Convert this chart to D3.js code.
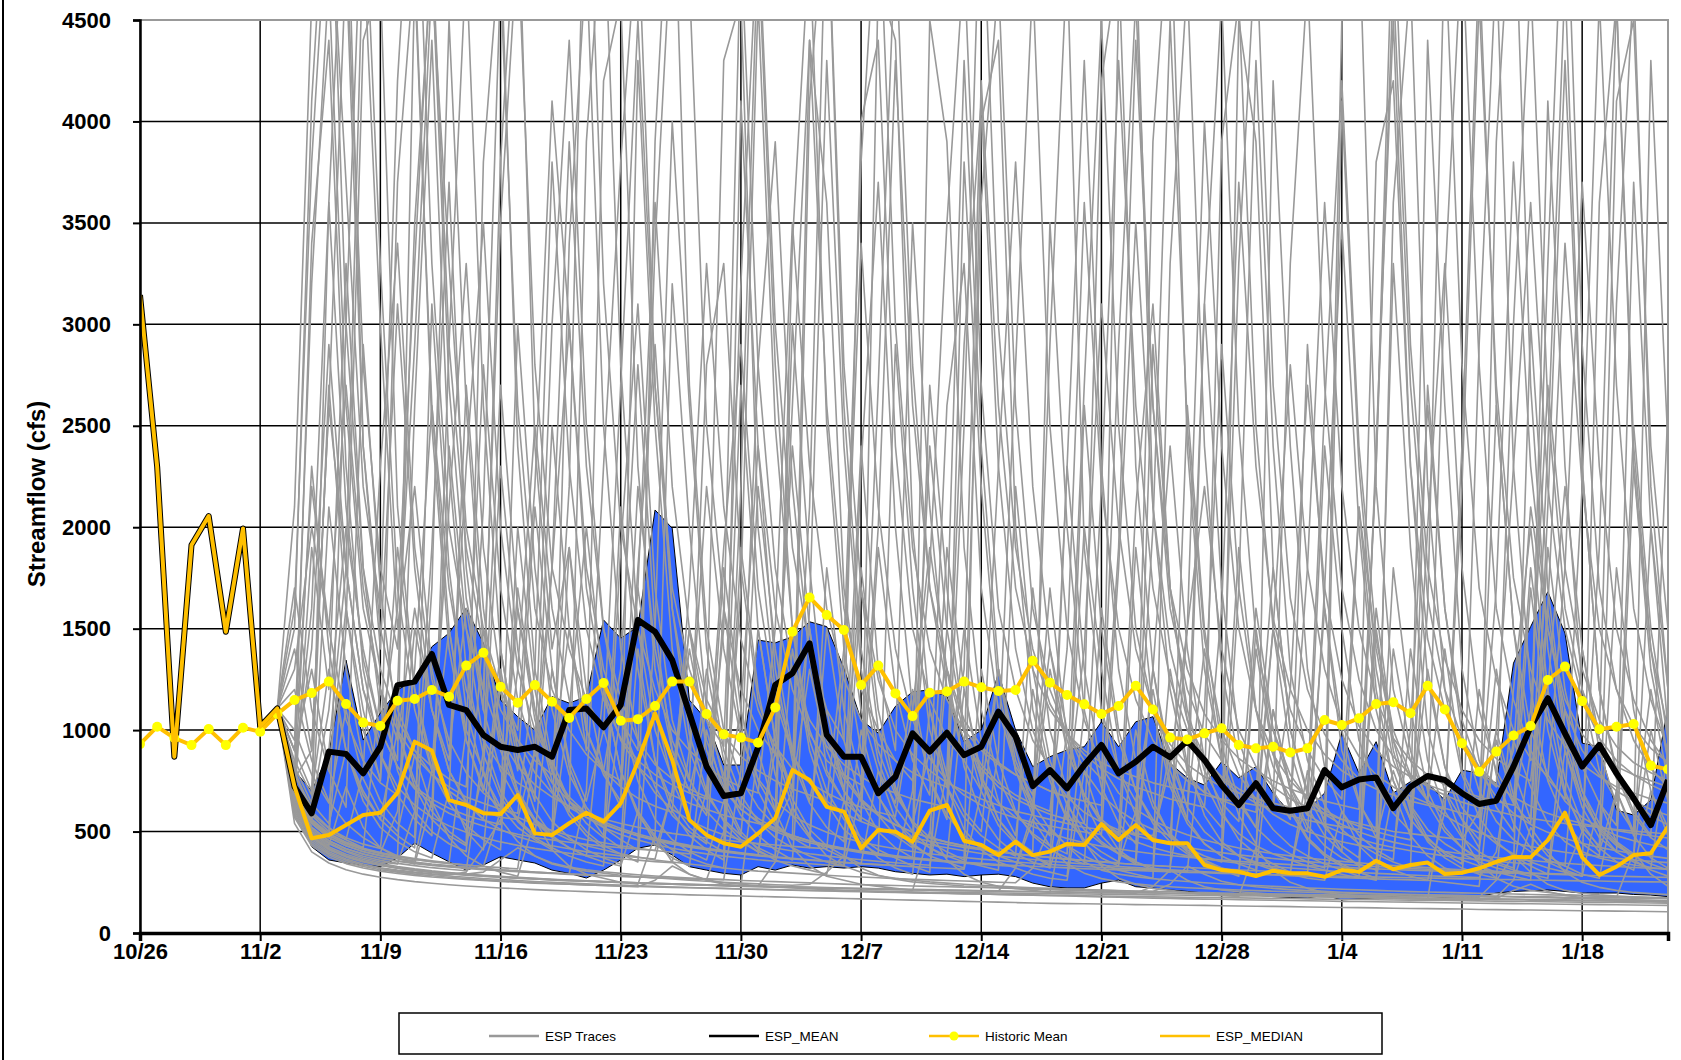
<!DOCTYPE html>
<html>
<head>
<meta charset="utf-8">
<script src="https://cdn.jsdelivr.net/npm/d3@7"></script>
<style>
  body { margin: 0; background: #fff; }
  svg { display: block; font-family: "Liberation Sans", Arial, sans-serif; }
</style>
</head>
<body>
<svg id="chart" width="1681" height="1060"></svg>
<script>
// x tick labels, one per week starting 10/26 (day 0)
const xTickLabels = ["10/26", "11/2", "11/9", "11/16", "11/23", "11/30", "12/7", "12/14", "12/21", "12/28", "1/4", "1/11", "1/18"];
const yTicks = [0, 500, 1000, 1500, 2000, 2500, 3000, 3500, 4000, 4500];

// ESP_MEAN, day 0..89 (first 9 days = observed)
const espMean = [3144, 2298, 869, 1912, 2055, 1485, 1994, 1017, 1107, 721,
  590, 894, 882, 787, 918, 1222, 1239, 1375, 1124, 1099,
  976, 918, 902, 918, 869, 1099, 1107, 1014, 1124, 1543,
  1485, 1345, 1083, 820, 675, 689, 915, 1222, 1280, 1428,
  976, 869, 869, 689, 770, 984, 894, 987, 877, 918,
  1091, 968, 724, 803, 713, 828, 927, 787, 844, 918,
  866, 948, 853, 729, 631, 738, 615, 603, 615, 803,
  718, 757, 767, 615, 721, 774, 754, 689, 636, 652,
  820, 1017, 1157, 984, 820, 927, 787, 664, 532, 754];

// ESP_MEDIAN, day 0..89
const espMedian = [3144, 2298, 869, 1912, 2055, 1485, 1994, 1017, 1107, 721,
  467, 483, 532, 582, 593, 692, 943, 899, 655, 631,
  590, 586, 680, 491, 483, 541, 593, 549, 639, 844,
  1083, 853, 557, 483, 442, 425, 491, 565, 803, 754,
  622, 598, 417, 508, 499, 450, 603, 631, 455, 434,
  384, 450, 384, 401, 439, 434, 537, 458, 532, 458,
  442, 442, 335, 310, 302, 281, 307, 294, 294, 277,
  310, 302, 356, 314, 335, 347, 291, 297, 319, 351,
  376, 373, 458, 593, 373, 286, 327, 384, 393, 524];

// Historic Mean, day 0..89
const historicMean = [931, 1017, 961, 926, 1005, 926, 1012, 992, 1080, 1148,
  1183, 1239, 1129, 1037, 1020, 1145, 1153, 1198, 1165, 1318,
  1381, 1214, 1135, 1222, 1140, 1060, 1153, 1232, 1046, 1054,
  1119, 1239, 1239, 1079, 979, 963, 938, 1112, 1485, 1654,
  1567, 1493, 1222, 1318, 1181, 1069, 1184, 1190, 1239, 1211,
  1193, 1198, 1342, 1234, 1173, 1127, 1079, 1119, 1219, 1102,
  963, 954, 984, 1009, 927, 910, 918, 890, 910, 1050,
  1025, 1058, 1129, 1137, 1083, 1219, 1102, 935, 795, 894,
  973, 1020, 1247, 1313, 1143, 1004, 1017, 1030, 825, 807];

// shaded ensemble band, day 9..89
const bandStart = 9;
const bandUpper = [800, 700, 887, 1345, 951, 1084, 1198, 1247, 1411, 1478,
  1601, 1429, 1148, 1066, 1000, 1165, 1133, 1165, 1543, 1453,
  1510, 2085, 1995, 1148, 1050, 828, 828, 1444, 1430, 1460,
  1534, 1510, 1306, 1050, 985, 1117, 1189, 1198, 1166, 943,
  1000, 1281, 1000, 820, 869, 902, 918, 1041, 918, 1041,
  1066, 837, 764, 729, 844, 764, 820, 689, 591, 606,
  690, 984, 788, 943, 690, 746, 738, 655, 803, 788,
  738, 1330, 1510, 1682, 1478, 936, 918, 606, 581, 655, 1115];
const bandLower = [640, 425, 360, 345, 335, 327, 370, 443, 394, 351,
  310, 335, 376, 360, 345, 310, 294, 271, 310, 360,
  418, 434, 384, 327, 310, 294, 286, 327, 310, 335,
  320, 327, 320, 327, 320, 302, 294, 286, 290, 278,
  286, 290, 278, 246, 228, 222, 222, 246, 261, 228,
  222, 212, 205, 197, 190, 197, 187, 179, 175, 172,
  187, 163, 168, 172, 180, 187, 180, 175, 179, 179,
  197, 205, 208, 212, 205, 197, 197, 197, 190, 187, 179];

// ESP traces, day 8..89
const traceStart = 8;
const espTraces = [
  [1107, 760, 900, 2600, 4800, 2400, 1500, 1100, 900, 780, 700, 640, 600, 570, 560, 900, 1800, 3000, 1700, 1200, 950, 820, 740, 680, 640, 610, 580, 560, 540, 520, 700, 2100, 5200, 2800, 1700, 1250, 1000, 880, 800, 740, 700, 660, 630, 600, 580, 560, 540, 520, 510, 500, 490, 480, 820, 1500, 2200, 1400, 1000, 820, 720, 660, 620, 590, 560, 540, 520, 500, 490, 480, 470, 460, 600, 1700, 3800, 2300, 1500, 1100, 900, 780, 700, 650, 610, 580],
  [1107, 620, 470, 410, 380, 355, 335, 320, 310, 300, 295, 290, 300, 360, 420, 380, 340, 320, 305, 295, 285, 278, 272, 266, 260, 255, 250, 246, 242, 238, 235, 240, 300, 380, 320, 285, 265, 252, 244, 238, 232, 228, 224, 220, 217, 214, 211, 208, 205, 203, 200, 198, 196, 194, 192, 190, 188, 186, 184, 182, 180, 178, 176, 174, 172, 170, 168, 167, 165, 164, 162, 170, 210, 240, 205, 185, 175, 168, 162, 158, 155, 152],
  [1107, 650, 500, 440, 400, 370, 350, 340, 600, 1900, 3700, 1800, 1100, 800, 650, 560, 500, 460, 430, 410, 390, 375, 360, 350, 340, 330, 320, 312, 305, 300, 295, 290, 285, 280, 276, 272, 268, 265, 262, 259, 256, 253, 250, 248, 320, 520, 430, 350, 310, 290, 278, 268, 260, 254, 248, 243, 238, 234, 230, 226, 222, 219, 216, 213, 210, 207, 204, 202, 200, 198, 196, 194, 192, 190, 188, 186, 184, 182, 180, 178, 176, 174],
  [1107, 820, 1400, 2900, 1800, 1200, 950, 1600, 3300, 4900, 2900, 1900, 1400, 1100, 950, 850, 780, 2200, 5600, 3200, 2000, 1500, 1200, 1000, 900, 820, 760, 720, 690, 1500, 3500, 2300, 1600, 1250, 1050, 930, 850, 790, 750, 720, 1300, 4200, 2600, 1700, 1300, 1100, 980, 900, 840, 800, 770, 740, 720, 700, 680, 660, 645, 630, 620, 1200, 2700, 1700, 1250, 1020, 900, 820, 770, 730, 700, 680, 660, 640, 900, 2100, 1500, 1150, 980, 880, 820, 780, 750, 720],
  [1107, 580, 440, 385, 350, 328, 312, 300, 290, 282, 275, 268, 262, 257, 252, 248, 244, 240, 237, 234, 231, 228, 260, 330, 290, 262, 248, 240, 233, 227, 222, 218, 214, 211, 208, 205, 202, 200, 198, 196, 194, 192, 190, 188, 186, 184, 182, 180, 178, 176, 174, 172, 170, 168, 167, 166, 164, 163, 162, 160, 159, 158, 156, 155, 154, 153, 152, 150, 149, 148, 147, 146, 145, 144, 143, 142, 141, 140, 139, 138, 137, 136],
  [1107, 700, 540, 470, 430, 400, 380, 365, 350, 340, 332, 325, 318, 312, 306, 300, 296, 292, 288, 284, 280, 276, 273, 270, 267, 264, 500, 1700, 4600, 2500, 1500, 1000, 780, 650, 570, 520, 480, 455, 435, 420, 405, 392, 380, 370, 362, 354, 347, 340, 334, 328, 322, 317, 312, 307, 302, 298, 294, 290, 286, 282, 279, 276, 273, 270, 267, 264, 262, 259, 600, 2400, 4800, 2600, 1500, 1000, 780, 650, 570, 520, 480, 455, 435, 420],
  [1107, 900, 2200, 1500, 1050, 850, 740, 680, 1300, 2600, 1700, 1200, 950, 820, 740, 690, 1800, 3900, 2300, 1500, 1150, 950, 830, 760, 710, 670, 640, 1100, 2400, 1600, 1200, 980, 850, 780, 730, 2000, 4300, 2600, 1700, 1300, 1050, 920, 840, 780, 740, 700, 670, 1400, 3100, 2000, 1400, 1100, 930, 830, 770, 720, 690, 660, 640, 620, 1800, 3600, 2200, 1500, 1150, 960, 850, 780, 730, 700, 670, 650, 630, 1100, 2700, 1800, 1300, 1050, 920, 840, 790, 750],
  [1107, 600, 460, 400, 365, 340, 322, 310, 300, 292, 286, 300, 420, 560, 450, 380, 345, 325, 312, 302, 294, 287, 281, 276, 271, 267, 263, 259, 256, 253, 250, 247, 244, 241, 238, 236, 234, 232, 230, 228, 226, 224, 222, 220, 218, 216, 214, 212, 210, 208, 206, 204, 240, 330, 290, 255, 238, 228, 220, 214, 209, 205, 201, 198, 195, 192, 190, 188, 186, 184, 182, 180, 178, 176, 174, 172, 170, 168, 166, 164, 162, 160],
  [1107, 680, 520, 455, 415, 390, 370, 355, 345, 335, 328, 322, 316, 310, 305, 300, 296, 292, 700, 2300, 3800, 5000, 2700, 1600, 1100, 850, 700, 610, 550, 510, 480, 455, 435, 418, 404, 392, 381, 371, 362, 354, 347, 340, 900, 2800, 4700, 2500, 1500, 1050, 820, 690, 610, 555, 515, 484, 458, 437, 419, 404, 391, 380, 370, 361, 353, 346, 339, 333, 327, 322, 317, 312, 308, 304, 300, 296, 293, 290, 500, 1900, 4600, 2400, 1400, 1000],
  [1107, 720, 560, 490, 445, 415, 395, 600, 1500, 1100, 800, 640, 560, 510, 475, 450, 430, 415, 400, 390, 380, 372, 365, 700, 1400, 950, 720, 610, 545, 500, 470, 445, 425, 410, 396, 384, 374, 365, 357, 350, 344, 338, 333, 328, 600, 1300, 900, 680, 560, 490, 450, 420, 398, 380, 366, 354, 344, 335, 327, 320, 314, 308, 303, 298, 294, 290, 286, 282, 279, 276, 273, 400, 950, 720, 540, 450, 400, 370, 350, 335, 323, 313],
  [1107, 1500, 4100, 5500, 3000, 1800, 1300, 1050, 900, 820, 760, 720, 2100, 4700, 2600, 1600, 1200, 1000, 880, 800, 750, 1700, 3600, 2200, 1500, 1150, 980, 870, 800, 750, 710, 680, 650, 1400, 3800, 5200, 3000, 1900, 1400, 1150, 1000, 900, 830, 780, 740, 700, 670, 650, 630, 1900, 4400, 2600, 1700, 1300, 1080, 950, 860, 800, 750, 710, 680, 650, 630, 610, 2300, 5100, 2900, 1800, 1350, 1100, 950, 860, 800, 750, 1600, 3400, 2200, 1500, 1200, 1020, 910, 840],
  [1107, 590, 450, 392, 358, 334, 318, 305, 296, 288, 281, 275, 269, 264, 259, 254, 250, 246, 242, 239, 236, 233, 230, 227, 224, 222, 220, 217, 215, 213, 211, 209, 207, 205, 203, 201, 200, 198, 196, 195, 193, 192, 190, 189, 188, 186, 185, 183, 182, 181, 180, 178, 177, 176, 175, 174, 173, 172, 171, 170, 168, 167, 166, 165, 164, 163, 162, 161, 160, 159, 158, 157, 156, 155, 154, 153, 152, 151, 150, 149, 148, 147],
  [1107, 740, 580, 500, 460, 800, 2300, 3400, 1900, 1250, 950, 790, 690, 620, 570, 535, 505, 480, 460, 445, 430, 418, 407, 398, 390, 700, 1900, 2900, 1700, 1150, 880, 740, 650, 590, 550, 518, 492, 470, 452, 436, 422, 410, 399, 389, 380, 372, 365, 358, 352, 346, 600, 2000, 4500, 2500, 1450, 1000, 780, 660, 585, 535, 500, 472, 450, 432, 417, 404, 1000, 2600, 1600, 1050, 800, 670, 590, 535, 496, 466, 442, 422, 405, 391, 379, 368],
  [1107, 640, 490, 425, 388, 362, 343, 328, 316, 306, 298, 291, 285, 279, 274, 269, 265, 261, 257, 254, 251, 248, 245, 242, 240, 237, 235, 233, 231, 350, 620, 480, 380, 330, 300, 282, 270, 260, 252, 246, 240, 235, 231, 227, 223, 220, 217, 214, 212, 209, 207, 205, 203, 201, 199, 197, 195, 194, 192, 191, 189, 188, 186, 185, 184, 182, 181, 180, 178, 177, 176, 260, 380, 300, 240, 210, 196, 188, 182, 177, 173, 170],
  [1107, 700, 550, 480, 440, 412, 392, 376, 363, 352, 343, 335, 328, 600, 1600, 1100, 800, 650, 570, 520, 485, 458, 436, 418, 403, 390, 379, 370, 361, 354, 347, 341, 335, 330, 700, 2700, 4900, 2800, 1700, 1200, 950, 810, 720, 660, 620, 585, 560, 540, 2200, 4300, 2600, 1700, 1250, 1000, 860, 770, 710, 665, 630, 3300, 4700, 2700, 1700, 1250, 1000, 870, 780, 720, 680, 645, 620, 600, 580, 565, 552, 540, 530, 520, 510, 502, 495, 488],
  [1107, 660, 510, 445, 405, 378, 358, 343, 332, 322, 314, 307, 900, 2700, 1600, 1050, 800, 670, 590, 540, 505, 478, 456, 438, 423, 410, 399, 389, 380, 372, 365, 359, 353, 347, 342, 337, 333, 700, 2400, 1500, 1000, 760, 640, 570, 525, 492, 466, 445, 428, 414, 402, 391, 382, 374, 366, 359, 353, 347, 342, 337, 332, 328, 324, 320, 316, 313, 310, 307, 304, 301, 298, 296, 293, 900, 3300, 5400, 2900, 1700, 1200, 950, 810, 720],
  [1107, 950, 3200, 4700, 2600, 1600, 1200, 1000, 870, 780, 720, 670, 640, 610, 590, 1300, 3800, 2300, 1500, 1150, 960, 850, 780, 730, 690, 660, 1500, 4900, 2800, 1800, 1300, 1050, 920, 830, 770, 720, 690, 660, 640, 620, 2500, 5300, 3000, 1900, 1400, 1130, 980, 880, 810, 760, 720, 690, 660, 640, 620, 1600, 3700, 2300, 1550, 1200, 1000, 880, 800, 750, 710, 680, 650, 630, 610, 2200, 4600, 2700, 1750, 1300, 1050, 920, 830, 770, 720, 690, 660, 640],
  [1107, 610, 470, 410, 374, 350, 333, 319, 308, 299, 292, 285, 280, 275, 270, 266, 262, 258, 255, 252, 249, 246, 243, 240, 237, 235, 232, 230, 228, 226, 224, 222, 220, 219, 217, 215, 214, 212, 211, 209, 208, 207, 205, 204, 203, 202, 200, 199, 198, 197, 196, 230, 310, 260, 228, 212, 203, 197, 192, 188, 185, 182, 180, 178, 176, 174, 172, 171, 169, 168, 166, 165, 164, 162, 161, 160, 159, 158, 157, 156, 155, 154],
  [1107, 690, 540, 470, 430, 402, 383, 368, 355, 800, 2100, 3300, 1900, 1250, 950, 790, 690, 620, 570, 535, 505, 480, 460, 442, 427, 414, 403, 393, 384, 1000, 2400, 1500, 1000, 780, 660, 585, 535, 498, 470, 448, 430, 415, 402, 391, 381, 372, 364, 357, 350, 344, 338, 333, 328, 323, 319, 315, 311, 307, 304, 301, 700, 2600, 4200, 2400, 1450, 1000, 780, 655, 580, 530, 494, 466, 444, 426, 411, 398, 387, 377, 368, 360, 353, 347],
  [1107, 780, 620, 1100, 2000, 1400, 1000, 820, 720, 660, 615, 580, 555, 535, 1300, 2500, 1600, 1150, 920, 800, 720, 665, 625, 595, 1700, 3300, 2100, 1450, 1100, 920, 810, 740, 690, 650, 620, 595, 575, 1100, 1900, 1300, 990, 830, 740, 680, 635, 600, 1400, 3600, 2200, 1500, 1150, 950, 830, 750, 695, 655, 620, 595, 1500, 2800, 1800, 1300, 1020, 870, 780, 720, 675, 640, 615, 590, 570, 1000, 2300, 3600, 2200, 1500, 1150, 960, 850, 780, 730, 690],
  [1107, 630, 480, 418, 380, 354, 336, 322, 311, 302, 294, 288, 282, 277, 272, 268, 264, 260, 257, 254, 251, 248, 245, 243, 240, 238, 236, 234, 232, 230, 228, 226, 224, 222, 220, 218, 217, 215, 214, 212, 211, 209, 208, 206, 205, 204, 203, 201, 200, 199, 198, 197, 196, 195, 194, 193, 192, 191, 190, 189, 188, 187, 186, 185, 184, 183, 182, 181, 180, 179, 178, 177, 260, 520, 400, 300, 250, 225, 210, 200, 194, 189],
  [1107, 700, 550, 480, 440, 412, 392, 376, 363, 352, 343, 335, 328, 322, 316, 900, 3000, 4400, 2500, 1500, 1050, 820, 690, 610, 555, 515, 484, 458, 437, 419, 404, 391, 380, 370, 361, 353, 346, 340, 334, 800, 2900, 4100, 2300, 1400, 1000, 790, 670, 595, 545, 508, 480, 457, 438, 422, 408, 396, 385, 376, 367, 359, 352, 345, 339, 333, 328, 323, 318, 314, 310, 306, 302, 299, 296, 293, 290, 287, 285, 282, 280, 278, 276, 274],
  [1107, 670, 520, 455, 415, 388, 368, 354, 342, 333, 325, 318, 312, 307, 302, 297, 293, 289, 285, 282, 279, 276, 273, 270, 268, 265, 263, 800, 2800, 3900, 2200, 1350, 950, 760, 650, 580, 532, 497, 470, 448, 430, 415, 402, 391, 381, 372, 364, 357, 350, 344, 338, 333, 328, 800, 3100, 4600, 2500, 1450, 1000, 780, 660, 585, 535, 498, 470, 448, 430, 415, 402, 391, 381, 372, 364, 357, 350, 344, 338, 333, 328, 323, 319, 315],
  [1107, 720, 560, 490, 448, 418, 397, 380, 367, 356, 346, 1000, 2800, 1700, 1150, 880, 740, 650, 590, 548, 515, 488, 466, 448, 432, 418, 406, 395, 385, 376, 368, 361, 354, 348, 342, 337, 332, 327, 323, 319, 315, 700, 2300, 3800, 2200, 1400, 1000, 800, 680, 605, 550, 510, 480, 1500, 4000, 2400, 1500, 1100, 880, 750, 665, 605, 560, 526, 499, 477, 459, 1600, 4900, 2800, 1700, 1250, 1000, 860, 770, 1800, 3700, 2300, 1500, 1150, 950, 830],
  [1107, 620, 475, 414, 378, 352, 334, 320, 309, 300, 292, 286, 280, 275, 270, 266, 262, 258, 255, 252, 249, 246, 243, 240, 238, 236, 234, 232, 230, 228, 226, 224, 222, 220, 218, 216, 215, 213, 212, 210, 209, 207, 206, 320, 560, 430, 340, 295, 268, 252, 242, 234, 228, 223, 219, 215, 212, 209, 206, 204, 201, 199, 197, 195, 193, 191, 189, 188, 186, 185, 183, 182, 180, 179, 178, 176, 175, 174, 173, 172, 171, 170],
  [1107, 710, 560, 900, 1800, 1200, 880, 720, 630, 570, 528, 496, 470, 449, 432, 417, 404, 393, 383, 374, 366, 359, 352, 346, 900, 2200, 1400, 960, 760, 650, 580, 532, 497, 470, 448, 430, 415, 402, 391, 381, 372, 364, 357, 350, 344, 338, 333, 328, 323, 319, 315, 311, 307, 304, 1100, 2900, 1700, 1100, 820, 670, 585, 530, 492, 463, 440, 421, 405, 392, 380, 370, 361, 353, 346, 340, 1200, 2200, 1400, 960, 760, 650, 580, 532],
  [1107, 750, 590, 515, 470, 438, 416, 1200, 3500, 4800, 2700, 1650, 1200, 960, 820, 730, 670, 625, 590, 562, 540, 521, 505, 491, 479, 468, 458, 449, 441, 434, 427, 421, 415, 1300, 3400, 2100, 1400, 1050, 860, 750, 680, 630, 595, 567, 545, 527, 511, 498, 486, 1800, 3500, 2100, 1400, 1050, 870, 760, 690, 640, 605, 578, 556, 538, 523, 510, 2300, 4700, 2700, 1650, 1200, 960, 820, 730, 670, 625, 590, 562, 540, 521, 505, 491, 479, 468],
  [1107, 570, 430, 375, 342, 320, 305, 293, 284, 276, 270, 264, 259, 254, 250, 246, 243, 240, 237, 234, 232, 229, 227, 225, 223, 221, 219, 217, 216, 214, 212, 211, 209, 208, 206, 205, 204, 202, 201, 200, 199, 198, 197, 196, 195, 194, 193, 192, 191, 190, 189, 188, 187, 186, 185, 184, 183, 182, 181, 180, 179, 178, 177, 176, 175, 174, 173, 172, 171, 170, 169, 168, 167, 166, 165, 164, 163, 162, 161, 160, 159, 158],
  [1107, 540, 400, 345, 312, 290, 275, 263, 253, 245, 238, 232, 227, 222, 218, 214, 210, 207, 204, 201, 198, 195, 193, 191, 188, 186, 184, 182, 180, 178, 176, 174, 172, 170, 168, 166, 164, 162, 160, 158, 156, 154, 152, 150, 148, 146, 145, 144, 143, 142, 140, 139, 138, 137, 136, 134, 133, 132, 131, 130, 128, 127, 126, 125, 124, 122, 121, 120, 119, 118, 116, 115, 114, 113, 112, 111, 110, 109, 108, 107, 106, 105],
  [1107, 780, 1600, 3600, 2100, 1350, 1000, 820, 710, 640, 590, 555, 527, 505, 487, 471, 458, 447, 437, 428, 420, 413, 407, 700, 1500, 1050, 780, 640, 565, 515, 480, 453, 432, 415, 401, 389, 379, 370, 362, 355, 349, 343, 338, 333, 329, 325, 321, 317, 314, 311, 308, 305, 302, 299, 297, 294, 292, 290, 288, 286, 284, 282, 280, 278, 276, 274, 272, 271, 269, 267, 266, 264, 263, 261, 260, 258, 257, 256, 254, 253, 252, 251],
  [1107, 1400, 900, 2600, 1800, 4900, 3000, 1500, 2200, 1300, 900, 1600, 1100, 3800, 5200, 2400, 1400, 1900, 1000, 800, 1300, 2800, 1500, 900, 700, 1100, 4300, 4600, 2000, 1200, 900, 1500, 800, 650, 2400, 1300, 900, 3500, 2100, 1200, 850, 700, 1300, 900, 600, 2900, 4800, 1900, 1100, 800, 650, 1200, 750, 560, 3100, 1700, 950, 700, 1800, 1000, 700, 560, 4500, 5000, 2200, 1200, 850, 650, 1400, 800, 620, 2600, 1500, 850, 4100, 2300, 1200, 800, 650, 3700, 2000, 1000],
  [1107, 650, 1900, 1200, 3300, 1800, 1100, 850, 4700, 2600, 1500, 1000, 800, 2300, 1400, 900, 700, 600, 3900, 5100, 2800, 1500, 1000, 760, 1500, 900, 680, 2700, 1500, 950, 700, 4400, 3600, 1700, 1100, 800, 640, 1200, 750, 560, 3800, 2200, 1200, 800, 620, 1700, 950, 680, 540, 4600, 4900, 2100, 1200, 800, 620, 520, 1900, 1100, 700, 560, 2900, 1600, 900, 640, 500, 3300, 1900, 1000, 700, 560, 460, 1300, 800, 560, 2400, 4700, 2300, 1200, 800, 600, 480, 2600],
  [1107, 800, 600, 3600, 5400, 2400, 1400, 3100, 1800, 1100, 800, 650, 560, 1400, 900, 650, 2500, 1500, 900, 4200, 4600, 2300, 1300, 900, 700, 580, 1800, 1100, 750, 600, 3000, 1800, 1000, 700, 550, 4700, 4400, 2000, 1100, 780, 600, 500, 1300, 800, 580, 480, 2300, 1300, 800, 600, 480, 3900, 5100, 2400, 1300, 850, 640, 520, 1500, 900, 620, 480, 400, 2100, 1200, 750, 560, 4400, 2600, 1300, 850, 620, 500, 1700, 1000, 680, 520, 430, 3100, 4700, 2200, 1200],
  [1107, 900, 1300, 800, 1600, 1100, 750, 1900, 1200, 800, 1500, 950, 700, 1200, 800, 2100, 1300, 850, 650, 1000, 720, 1700, 1100, 750, 560, 1300, 850, 620, 2200, 1400, 900, 650, 1100, 700, 1800, 1100, 720, 540, 900, 620, 1500, 950, 650, 480, 1200, 780, 560, 2000, 1300, 800, 580, 450, 900, 620, 1400, 850, 580, 440, 1100, 700, 500, 1600, 1000, 650, 470, 800, 560, 1300, 820, 560, 420, 950, 640, 1800, 1100, 700, 500, 400, 700, 500, 1200, 750],
  [1107, 700, 560, 480, 1500, 4400, 4700, 2100, 1200, 850, 680, 2700, 1600, 950, 700, 560, 480, 3400, 4800, 2500, 1400, 950, 720, 580, 500, 440, 1600, 1000, 700, 540, 460, 4100, 5200, 2600, 1400, 900, 680, 550, 470, 1900, 1200, 750, 560, 460, 400, 3500, 2000, 1100, 720, 540, 440, 1300, 800, 560, 440, 380, 4500, 3900, 1800, 1000, 680, 520, 430, 370, 1600, 950, 620, 470, 390, 340, 2900, 4800, 2300, 1200, 750, 550, 440, 380, 1800, 1100, 700, 520],
  [1107, 1000, 780, 640, 1100, 760, 590, 500, 880, 620, 2400, 1500, 950, 700, 560, 480, 1300, 820, 600, 480, 420, 1800, 2900, 1600, 980, 700, 550, 460, 400, 900, 620, 480, 1500, 950, 650, 500, 420, 370, 2700, 1700, 1000, 700, 530, 440, 380, 340, 1000, 650, 480, 390, 340, 1300, 2400, 1400, 850, 600, 460, 390, 340, 300, 800, 540, 400, 330, 1500, 900, 600, 450, 370, 320, 290, 270, 1200, 2000, 1200, 760, 540, 420, 350, 310, 700, 480],
  [1107, 2100, 4600, 5800, 4900, 2800, 1800, 1400, 2900, 4700, 3300, 2000, 1500, 1200, 1000, 2200, 4100, 3000, 1800, 1300, 1050, 900, 3400, 5000, 4700, 2500, 1600, 1200, 1000, 880, 2600, 4400, 2600, 1600, 1200, 1000, 850, 750, 1800, 3500, 4800, 2700, 1600, 1200, 950, 820, 720, 2700, 4500, 2500, 1500, 1100, 900, 780, 690, 3900, 4600, 2500, 1500, 1100, 900, 760, 660, 2100, 1400, 950, 760, 650, 3200, 4900, 2800, 1600, 1150, 900, 760, 660, 2200, 4600, 2700, 1600, 1150, 900],
  [1107, 720, 2300, 1400, 900, 700, 560, 480, 420, 1700, 4500, 2600, 1400, 900, 680, 550, 470, 1100, 2000, 1200, 800, 600, 480, 3200, 2000, 1100, 750, 580, 480, 410, 360, 1600, 4300, 2400, 1300, 850, 620, 500, 420, 370, 1200, 780, 560, 450, 380, 330, 2300, 4300, 2300, 1300, 850, 620, 490, 410, 360, 320, 290, 1500, 900, 620, 470, 390, 340, 300, 270, 3600, 4700, 2200, 1200, 780, 570, 450, 380, 330, 290, 1100, 700, 500, 400, 2300, 1400, 850],
  [1107, 1700, 1100, 800, 620, 2900, 1700, 1000, 750, 600, 500, 440, 3800, 4900, 2400, 1300, 850, 650, 540, 470, 2100, 1300, 850, 640, 520, 450, 400, 4100, 2400, 1300, 850, 640, 520, 450, 1700, 1000, 700, 540, 450, 400, 360, 4000, 4400, 2000, 1100, 750, 560, 460, 400, 350, 1900, 1100, 720, 540, 440, 380, 340, 310, 4200, 2400, 1300, 820, 600, 480, 410, 360, 1400, 850, 600, 470, 400, 350, 320, 3000, 1700, 1000, 700, 540, 450, 390, 1000, 650],
  [1107, 850, 680, 1300, 900, 680, 560, 1000, 720, 560, 480, 430, 800, 580, 1700, 1100, 750, 580, 480, 420, 1100, 750, 560, 460, 400, 360, 650, 480, 1500, 950, 660, 510, 430, 380, 340, 800, 560, 440, 380, 1300, 820, 580, 460, 390, 350, 320, 600, 440, 370, 330, 1000, 650, 480, 400, 350, 310, 280, 1400, 880, 600, 460, 380, 330, 300, 270, 700, 480, 380, 320, 290, 1200, 780, 540, 420, 350, 310, 280, 650, 450, 360, 310, 280],
  [1107, 680, 540, 470, 3000, 5300, 3300, 1700, 1100, 800, 640, 530, 460, 410, 2000, 1200, 800, 600, 500, 430, 390, 350, 1500, 4000, 2600, 1400, 900, 680, 550, 470, 420, 380, 350, 330, 2300, 3700, 2000, 1100, 760, 580, 480, 420, 380, 350, 320, 300, 280, 1100, 4200, 4800, 2300, 1300, 850, 620, 500, 430, 380, 350, 320, 300, 280, 1700, 3500, 2000, 1100, 750, 560, 460, 400, 360, 330, 300, 280, 260, 2100, 4300, 2300, 1200, 780, 580, 470, 410],
  [1107, 1300, 2000, 1500, 2700, 1700, 1200, 950, 1600, 1100, 850, 2300, 3500, 2000, 1300, 1000, 830, 1500, 1000, 780, 650, 2200, 1400, 950, 750, 2800, 3300, 1800, 1150, 880, 720, 1300, 900, 700, 590, 1900, 1200, 850, 680, 2600, 3300, 1700, 1100, 820, 680, 1400, 900, 680, 560, 480, 2100, 3100, 1700, 1100, 800, 640, 550, 1600, 1000, 720, 580, 2400, 1500, 950, 720, 590, 500, 2000, 3300, 1800, 1100, 800, 640, 540, 1900, 1200, 820, 640, 530, 2500, 1500, 950],
  [1107, 760, 3400, 4400, 2300, 1300, 880, 680, 560, 480, 2900, 4800, 2600, 1400, 900, 680, 550, 470, 410, 370, 340, 1400, 850, 600, 480, 410, 360, 2200, 4900, 2800, 1500, 950, 700, 560, 470, 410, 370, 330, 300, 1500, 4300, 2400, 1300, 850, 640, 510, 430, 380, 340, 310, 290, 270, 3300, 4700, 2400, 1300, 850, 630, 510, 430, 380, 340, 310, 280, 260, 1800, 1100, 700, 520, 420, 360, 3900, 5300, 2700, 1400, 900, 660, 520, 440, 380, 340, 310],
  [1107, 640, 500, 430, 720, 520, 420, 370, 340, 650, 470, 380, 330, 300, 280, 560, 410, 330, 290, 270, 250, 240, 480, 350, 290, 260, 240, 230, 900, 600, 420, 330, 280, 260, 240, 230, 220, 210, 500, 360, 290, 250, 230, 220, 210, 200, 650, 450, 330, 270, 240, 220, 210, 200, 190, 185, 180, 420, 310, 250, 220, 200, 190, 185, 180, 175, 170, 165, 700, 480, 340, 270, 230, 210, 200, 190, 185, 180, 175, 400, 290, 230],
  [1107, 900, 700, 2700, 1600, 1000, 760, 3700, 4800, 2500, 1400, 950, 720, 590, 3000, 1800, 1100, 780, 620, 520, 460, 410, 3900, 5500, 2700, 1500, 1000, 760, 620, 530, 470, 420, 1800, 1100, 750, 580, 480, 420, 4500, 3900, 1900, 1100, 760, 590, 490, 430, 390, 2600, 1500, 950, 700, 560, 470, 420, 380, 350, 1700, 4300, 2400, 1300, 850, 630, 510, 440, 390, 350, 320, 2700, 1600, 980, 700, 550, 460, 400, 360, 330, 1400, 900, 630, 500, 4300, 2400],
  [1107, 780, 600, 520, 460, 420, 1200, 800, 600, 500, 440, 400, 1500, 1000, 700, 560, 470, 420, 380, 1200, 800, 580, 470, 410, 370, 340, 320, 1900, 1200, 780, 580, 470, 410, 370, 1000, 680, 510, 430, 380, 350, 320, 1300, 850, 600, 480, 410, 370, 340, 1600, 1000, 700, 540, 450, 390, 350, 320, 300, 280, 1100, 720, 530, 430, 370, 340, 310, 1400, 900, 640, 500, 420, 370, 340, 310, 290, 270, 900, 620, 470, 400, 350, 320, 900],
  [1107, 1600, 3800, 5200, 3700, 2200, 1600, 4200, 5600, 3300, 2000, 1500, 1200, 3500, 4900, 2800, 1800, 1400, 1150, 1000, 2700, 4500, 2700, 1700, 1300, 1050, 920, 3200, 5000, 3000, 1900, 1400, 1100, 950, 4000, 4400, 2400, 1500, 1150, 960, 850, 3600, 4700, 2600, 1600, 1200, 980, 850, 760, 2900, 4600, 2600, 1600, 1200, 980, 850, 3300, 4900, 2700, 1650, 1200, 980, 850, 760, 3800, 4200, 2300, 1450, 1100, 920, 800, 720, 3000, 4700, 2600, 1600, 1200, 980, 4100, 4500, 2400, 1500],
  [1107, 700, 560, 2100, 1300, 850, 650, 540, 470, 3100, 1800, 1100, 780, 620, 520, 460, 410, 1900, 1200, 800, 620, 4300, 2500, 1400, 900, 680, 560, 480, 420, 380, 1400, 900, 640, 510, 440, 390, 2900, 1700, 1000, 720, 570, 480, 420, 380, 1700, 1000, 700, 540, 450, 390, 350, 320, 300, 2600, 1500, 920, 660, 520, 440, 390, 350, 320, 4100, 2300, 1300, 850, 630, 510, 440, 390, 350, 320, 300, 280, 1600, 950, 660, 510, 430, 380, 2000, 1200],
  [1107, 1200, 850, 650, 540, 470, 420, 380, 2600, 4400, 2300, 1300, 880, 670, 550, 470, 420, 380, 350, 330, 1900, 3100, 1700, 1050, 760, 600, 510, 450, 400, 370, 3400, 4900, 2500, 1400, 900, 670, 550, 470, 420, 380, 350, 330, 310, 2200, 1300, 850, 630, 510, 440, 390, 360, 2900, 1700, 1050, 740, 580, 490, 430, 390, 360, 330, 310, 290, 270, 2400, 4500, 2300, 1250, 820, 620, 510, 440, 390, 350, 320, 300, 280, 3600, 4600, 2300, 1300, 850],
  [1107, 820, 640, 540, 900, 650, 520, 450, 400, 370, 700, 500, 410, 1300, 850, 600, 480, 420, 380, 350, 330, 600, 440, 370, 330, 1000, 680, 500, 410, 360, 330, 310, 290, 650, 460, 370, 320, 290, 1100, 720, 510, 410, 350, 320, 290, 270, 260, 800, 540, 410, 350, 310, 1300, 830, 580, 450, 380, 340, 310, 290, 270, 260, 600, 430, 350, 310, 280, 260, 250, 240, 230, 1000, 680, 480, 380, 330, 290, 270, 700, 480, 370, 320]
];

const legendItems = ["ESP Traces", "ESP_MEAN", "Historic Mean", "ESP_MEDIAN"];

const svg = d3.select("#chart");
const margin = { left: 140, right: 1668, top: 20, bottom: 933 };

const x = d3.scaleLinear().domain([0, 89]).range([margin.left, margin.right]);
const y = d3.scaleLinear().domain([0, 4500]).range([margin.bottom, margin.top]);
const tickDays = xTickLabels.map((_, i) => i * 7);

// outer frame edge on the left
svg.append("line")
    .attr("x1", 3).attr("x2", 3).attr("y1", 0).attr("y2", 1060)
    .attr("stroke", "#000").attr("stroke-width", 2);

// clip for the plot area
svg.append("clipPath").attr("id", "plotClip")
  .append("rect")
    .attr("x", margin.left).attr("y", margin.top)
    .attr("width", margin.right - margin.left)
    .attr("height", margin.bottom - margin.top);

// gridlines
const grid = svg.append("g");
grid.selectAll(".hgrid")
  .data(yTicks.filter(v => v > 0))
  .join("line")
    .attr("x1", margin.left).attr("x2", margin.right)
    .attr("y1", d => y(d)).attr("y2", d => y(d))
    .attr("stroke", "#000").attr("stroke-width", 1.5);
grid.selectAll(".vgrid")
  .data(tickDays.filter(v => v > 0))
  .join("line")
    .attr("x1", d => x(d)).attr("x2", d => x(d))
    .attr("y1", margin.top).attr("y2", margin.bottom)
    .attr("stroke", "#000").attr("stroke-width", 1.5);

const plot = svg.append("g").attr("clip-path", "url(#plotClip)");

// ensemble band
const bandData = bandUpper.map((u, i) => ({ d: bandStart + i, hi: u, lo: bandLower[i] }));
plot.append("path")
    .datum(bandData)
    .attr("fill", "#3366FF")
    .attr("stroke", "#000")
    .attr("stroke-width", 1)
    .attr("d", d3.area().x(p => x(p.d)).y0(p => y(p.lo)).y1(p => y(p.hi)));

const line = d3.line().x(p => x(p[0])).y(p => y(p[1]));

// grey traces
plot.selectAll(".trace")
  .data(espTraces)
  .join("path")
    .attr("fill", "none")
    .attr("stroke", "#999999")
    .attr("stroke-width", 1.6)
    .attr("stroke-linejoin", "round")
    .attr("d", t => line(t.map((v, i) => [traceStart + i, v])));

// ESP mean
plot.append("path")
    .attr("fill", "none")
    .attr("stroke", "#000")
    .attr("stroke-width", 6)
    .attr("stroke-linejoin", "round")
    .attr("d", line(espMean.map((v, i) => [i, v])));

// historic mean
plot.append("path")
    .attr("fill", "none")
    .attr("stroke", "#FFC000")
    .attr("stroke-width", 4)
    .attr("stroke-linejoin", "round")
    .attr("d", line(historicMean.map((v, i) => [i, v])));
plot.selectAll(".hm")
  .data(historicMean)
  .join("circle")
    .attr("cx", (v, i) => x(i))
    .attr("cy", v => y(v))
    .attr("r", 5)
    .attr("fill", "#FFFF00");

// ESP median
plot.append("path")
    .attr("fill", "none")
    .attr("stroke", "#FFC000")
    .attr("stroke-width", 4)
    .attr("stroke-linejoin", "round")
    .attr("d", line(espMedian.map((v, i) => [i, v])));

// plot area border
svg.append("rect")
    .attr("x", margin.left).attr("y", margin.top)
    .attr("width", margin.right - margin.left)
    .attr("height", margin.bottom - margin.top)
    .attr("fill", "none")
    .attr("stroke", "#999").attr("stroke-width", 2);

// axes
const yAxis = svg.append("g")
    .attr("transform", `translate(${margin.left},0)`)
    .call(d3.axisLeft(y).tickValues(yTicks).tickSize(7).tickPadding(22).tickFormat(d3.format("d")));
const xAxis = svg.append("g")
    .attr("transform", `translate(0,${margin.bottom})`)
    .call(d3.axisBottom(x).tickValues(tickDays).tickSize(8).tickPadding(2)
      .tickFormat((d, i) => xTickLabels[i]));

[yAxis, xAxis].forEach(a => {
  a.selectAll("text")
      .attr("fill", "#000")
      .style("font-family", "'Liberation Sans', Arial, sans-serif")
      .style("font-size", "22px")
      .style("font-weight", "bold");
  a.selectAll(".tick line").attr("stroke", "#000").attr("stroke-width", 2);
});
yAxis.select(".domain").attr("stroke", "#000").attr("stroke-width", 2.5);
xAxis.select(".domain").attr("stroke", "#000").attr("stroke-width", 3.5);

// y axis title
svg.append("text")
    .attr("transform", "translate(45,494) rotate(-90)")
    .attr("text-anchor", "middle")
    .style("font-size", "24px")
    .style("font-weight", "bold")
    .text("Streamflow (cfs)");

// legend
const legend = svg.append("g");
legend.append("rect")
    .attr("x", 399).attr("y", 1013).attr("width", 983).attr("height", 41)
    .attr("fill", "#fff").attr("stroke", "#000").attr("stroke-width", 1.5);

const legendX = [489, 709, 929, 1160];
const legendStyles = [
  { color: "#999999", width: 2.5, marker: false },
  { color: "#000", width: 2.5, marker: false },
  { color: "#FFC000", width: 2.5, marker: true },
  { color: "#FFC000", width: 2.5, marker: false }
];
legendItems.forEach((name, i) => {
  const g = legend.append("g").attr("transform", `translate(${legendX[i]},1036)`);
  g.append("line")
      .attr("x1", 0).attr("x2", 50).attr("y1", 0).attr("y2", 0)
      .attr("stroke", legendStyles[i].color)
      .attr("stroke-width", legendStyles[i].width);
  if (legendStyles[i].marker) {
    g.append("circle").attr("cx", 25).attr("cy", 0).attr("r", 4.5).attr("fill", "#FFFF00");
  }
  g.append("text")
      .attr("x", 56).attr("y", 0).attr("dy", "0.35em")
      .style("font-size", "13.5px")
      .text(name);
});
</script>
</body>
</html>
